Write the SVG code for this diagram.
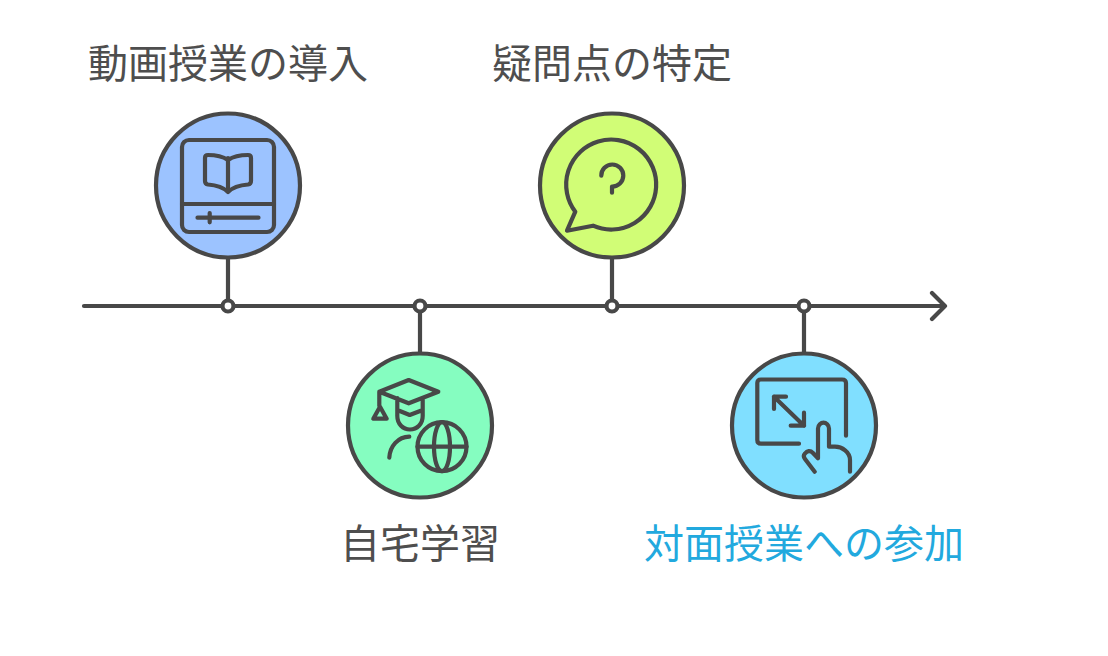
<svg xmlns="http://www.w3.org/2000/svg" width="1108" height="656" viewBox="0 0 1108 656">
<style>
.l{fill:none;stroke:#484848;stroke-width:4.200;stroke-linecap:round;stroke-linejoin:round}
.c{stroke:#484848;stroke-width:4.200}
.d{fill:#fff;stroke:#484848;stroke-width:4.200}
.t{font-family:"Noto Sans CJK JP","Noto Sans CJK SC",sans-serif;font-size:40px;fill:#4e4e4e;text-anchor:middle}
</style>
<rect width="1108" height="656" fill="#fff"/>
<g id="connectors">
<path class="l" d="M84 306H945M932 293L945 306L932 319"/>
<path class="l" style="stroke-linecap:butt" d="M228 257V306M420 306V354M612 257V306M804 306V354"/>
<circle class="d" cx="228" cy="306" r="5.500"/>
<circle class="d" cx="420" cy="306" r="5.500"/>
<circle class="d" cx="612" cy="306" r="5.500"/>
<circle class="d" cx="804" cy="306" r="5.500"/>
</g>
<g id="node-video">
<circle class="c" cx="228" cy="185.500" r="72" fill="#9CC3FF"/>
<rect class="l" x="182" y="140" width="92" height="92" rx="7"/>
<path class="l" d="M182 204H274M197.500 217.700H258.500M209.700 213V222.300M228 158V191M228 160C222 156 214 155 208 155Q205 155 205 158V181Q205 184 208 184.500C215 185 223 187 228 192C233 187 241 185 248 184.500Q251 184 251 181V158Q251 155 248 155C242 155 234 156 228 160Z"/>
<text class="t" x="228" y="78">動画授業の導入</text>
</g>
<g id="node-home">
<circle class="c" cx="420" cy="425.500" r="72" fill="#85FDC0"/>
<path class="l" d="M408.700 380L438.300 391.700L408.700 403.300L379.300 391.700ZM379.300 391.700V406M380 406.700L373.300 418.700H386.700ZM397.300 398V416C397.300 424 403 429.500 410 429.500S422.700 424 422.700 416V398M397.300 410L409.700 415L422.700 410M389.300 457.700C390 446 398 437 409.300 436.700"/>
<circle class="l" cx="442" cy="446.700" r="24.500"/>
<ellipse class="l" cx="442" cy="446.700" rx="8" ry="24.500"/>
<path class="l" d="M417.500 446.700H466.500"/>
<text class="t" x="420" y="558">自宅学習</text>
</g>
<g id="node-question">
<circle class="c" cx="612" cy="185.500" r="72" fill="#D1FD76"/>
<path class="l" d="M593 225.700A45 45 0 1 0 575.300 211.700L567 230.700Z"/>
<path class="l" d="M601.300 175.700A11 11 0 1 1 612 186.500V192.700"/>
<text class="t" x="612" y="78">疑問点の特定</text>
</g>
<g id="node-class">
<circle class="c" cx="804" cy="425.500" r="72" fill="#80DFFF"/>
<path class="l" d="M799 443.700H761Q757.300 443.700 757.300 440V383Q757.300 379.500 761 379.500H842Q846 379.500 846 383V435.700M774 396.700L804 425.700M774 409V396.700H786M790.700 425.700H804V412.700M850 471.700V460C850 452 842 446.700 835 446.700H829V428.500C829 425 826 422.700 823.500 422.700S818 425 818 428.500V458.300L813 453C810 450 807 451 805 453.500C803.500 455 803.500 457 805 459L814.700 471.700"/>
<text class="t" x="804" y="558" style="fill:#22A9DE">対面授業への参加</text>
</g>
</svg>
